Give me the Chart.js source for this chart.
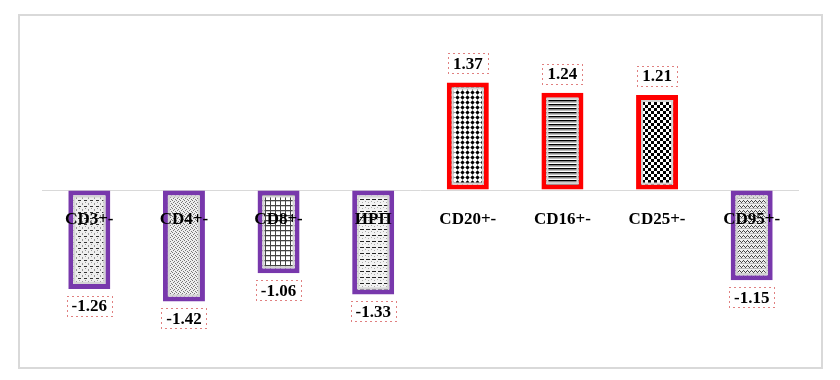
<!DOCTYPE html>
<html>
<head>
<meta charset="utf-8">
<script src="https://cdn.jsdelivr.net/npm/chart.js@4"></script>
<style>
html, body { margin: 0; padding: 0; background: #fff; }
#wrap { position: relative; width: 840px; height: 380px; }
#frame { position: absolute; left: 18px; top: 14px; width: 801px; height: 351px; border: 2px solid #d9d9d9; }
canvas { position: absolute; left: 0; top: 0; }
</style>
</head>
<body>
<div id="wrap">
  <div id="frame"></div>
  <canvas id="barchart" width="840" height="380"></canvas>
</div>
<script>
var categories = ["CD3+-", "CD4+-", "CD8+-", "ИРП", "CD20+-", "CD16+-", "CD25+-", "CD95+-"];
var values = [-1.26, -1.42, -1.06, -1.33, 1.37, 1.24, 1.21, -1.15];
var yMin = -2, yMax = 2;

var serif = '"Liberation Serif", "Times New Roman", serif';
var purple = "#7838ac", red = "#ff0000";

// small tiles for the hatch fills
function tile(w, h, draw) {
  var c = document.createElement("canvas");
  c.width = w; c.height = h;
  var g = c.getContext("2d");
  g.fillStyle = "#fff";
  g.fillRect(0, 0, w, h);
  draw(g);
  return c;
}

function makePatterns(ctx) {
  var dashRows = tile(6, 6, function (g) {
    g.fillStyle = "#eee"; g.fillRect(0, 0, 6, 6);
    g.fillStyle = "#333"; g.fillRect(0, 2, 3, 1);
    g.fillStyle = "#999"; g.fillRect(4, 5, 1, 1); g.fillRect(1, 4, 1, 1); g.fillRect(4, 0, 1, 1);
  });
  var stipple = tile(4, 4, function (g) {
    g.fillStyle = "#eee"; g.fillRect(0, 0, 4, 4);
    g.fillStyle = "#777";
    g.fillRect(0, 0, 1, 1); g.fillRect(2, 1, 1, 1); g.fillRect(1, 2, 1, 1); g.fillRect(3, 3, 1, 1);
  });
  var grid = tile(5, 5, function (g) {
    g.fillStyle = "#444"; g.fillRect(0, 0, 5, 1); g.fillRect(0, 0, 1, 5);
    g.fillStyle = "#ccc"; g.fillRect(1, 1, 4, 1);
  });
  var dashRows2 = tile(6, 6, function (g) {
    g.fillStyle = "#f2f2f2"; g.fillRect(0, 0, 6, 6);
    g.fillStyle = "#222"; g.fillRect(0, 1, 4, 1);
    g.fillStyle = "#aaa"; g.fillRect(2, 4, 1, 1); g.fillRect(5, 3, 1, 1);
  });
  var diamonds = tile(5, 5, function (g) {
    g.fillStyle = "#000";
    g.beginPath(); g.moveTo(2.5, 0.3); g.lineTo(4.7, 2.5); g.lineTo(2.5, 4.7); g.lineTo(0.3, 2.5); g.closePath(); g.fill();
  });
  var hlines = tile(4, 4, function (g) {
    g.fillStyle = "#000"; g.fillRect(0, 0, 4, 1);
    g.fillStyle = "#888"; g.fillRect(0, 1, 4, 1);
    g.fillStyle = "#bbb"; g.fillRect(0, 2, 4, 1);
  });
  var checker = tile(6, 6, function (g) {
    g.fillStyle = "#000"; g.fillRect(0, 0, 3, 3); g.fillRect(3, 3, 3, 3);
  });
  var waves = tile(4, 5, function (g) {
    g.fillStyle = "#eee"; g.fillRect(0, 0, 4, 5);
    g.fillStyle = "#444";
    g.fillRect(0, 1, 1, 1); g.fillRect(1, 2, 1, 1); g.fillRect(2, 1, 1, 1); g.fillRect(3, 0, 1, 1);
    g.fillStyle = "#bbb"; g.fillRect(0, 3, 4, 1);
  });
  return [dashRows, stipple, grid, dashRows2, diamonds, hlines, checker, waves].map(function (c) {
    return ctx.createPattern(c, "repeat");
  });
}

// light inner edge + value labels with dotted red box
var barExtras = {
  id: "barExtras",
  afterDatasetsDraw: function (chart) {
    var ctx = chart.ctx;
    var meta = chart.getDatasetMeta(0);
    ctx.save();
    meta.data.forEach(function (bar, i) {
      var bw = 5;
      var top = Math.min(bar.y, bar.base), bottom = Math.max(bar.y, bar.base);
      ctx.strokeStyle = "#d4d4d4";
      ctx.lineWidth = 2;
      ctx.strokeRect(bar.x - bar.width / 2 + bw + 1, top + bw + 1, bar.width - 2 * bw - 2, bottom - top - 2 * bw - 2);
    });
    ctx.font = "bold 17px " + serif;
    ctx.textAlign = "center";
    ctx.textBaseline = "middle";
    meta.data.forEach(function (bar, i) {
      var v = values[i];
      var txt = v.toFixed(2);
      var y = v >= 0 ? bar.y - 19 : bar.y + 17;
      var w = Math.round(ctx.measureText(txt).width + 10);
      ctx.strokeStyle = "#c00000";
      ctx.lineWidth = 1;
      ctx.setLineDash([1, 4]);
      ctx.strokeRect(Math.round(bar.x - w / 2) + 0.5, Math.round(y - 10) + 0.5, w, 20);
      ctx.setLineDash([]);
      ctx.fillStyle = "#000";
      ctx.fillText(txt, bar.x, y + 1);
    });
    ctx.restore();
  }
};

var ctx = document.getElementById("barchart").getContext("2d");
var patterns = makePatterns(ctx);

new Chart(ctx, {
  type: "bar",
  data: {
    labels: categories,
    datasets: [{
      data: values,
      backgroundColor: patterns,
      borderColor: values.map(function (v) { return v >= 0 ? red : purple; }),
      borderWidth: 5,
      borderSkipped: false,
      barPercentage: 0.444,
      categoryPercentage: 1.0
    }]
  },
  options: {
    responsive: false,
    animation: false,
    layout: { padding: { left: 42, right: 41, top: 33, bottom: 33 } },
    plugins: { legend: { display: false }, tooltip: { enabled: false } },
    scales: {
      x: {
        position: { y: 0 },
        grid: { display: false, drawTicks: true, tickLength: 19 },
        border: { display: false },
        ticks: {
          z: 1,
          color: "#000",
          padding: 0,
          maxRotation: 0,
          autoSkip: false,
          font: { family: serif, size: 17, weight: "bold" }
        },
        afterFit: function (s) { s.height = 0; }
      },
      y: {
        min: yMin,
        max: yMax,
        ticks: { display: false, stepSize: 1 },
        grid: {
          drawTicks: false,
          color: function (c) { return c.tick && c.tick.value === 0 ? "#d9d9d9" : "rgba(0,0,0,0)"; }
        },
        border: { display: false },
        afterFit: function (s) { s.width = 0; }
      }
    }
  },
  plugins: [barExtras]
});
</script>
</body>
</html>
